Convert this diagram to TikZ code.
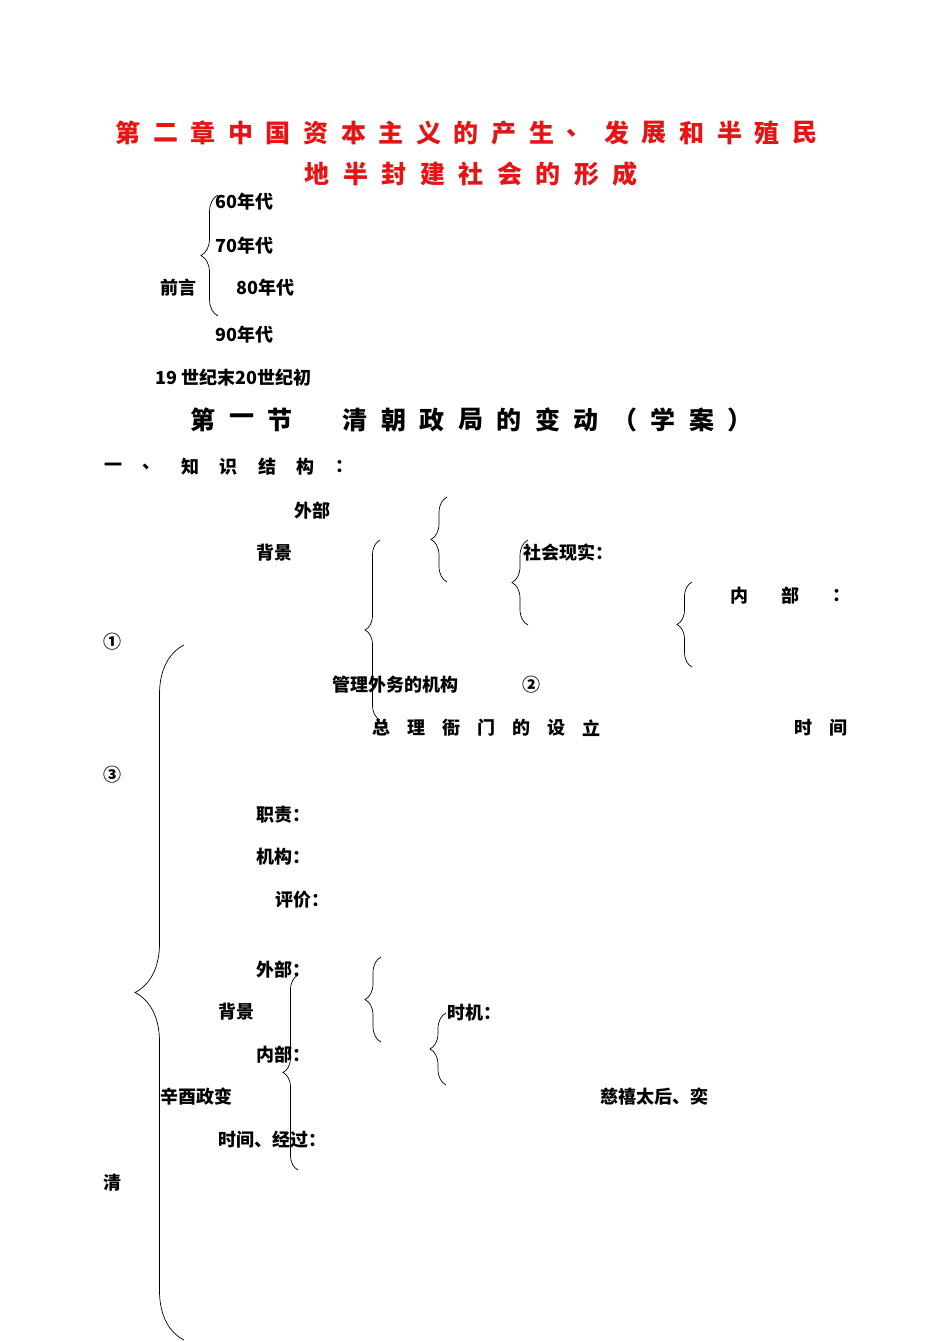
\documentclass[tikz,border=0pt]{standalone}
\usepackage{fontspec}
\setmainfont{Liberation Serif}
\newfontfamily\cjk{Noto Sans CJK SC}
\usetikzlibrary{decorations.pathreplacing}
\definecolor{titlered}{RGB}{230,20,20}
\tikzset{
 txt/.style={anchor=west,inner sep=0pt,font=\cjk\fontsize{18}{18}\selectfont\bfseries},
 ttl/.style={inner sep=0pt,font=\cjk\fontsize{25}{25}\selectfont\bfseries},
 br/.style={decorate,decoration={brace,amplitude=#1},line width=0.7pt},
}
\newcommand\spreadtext[6]{% x0, pitch, y, name, style, chars
 \foreach \c [count=\i from 0] in {#6} \node[#5,name=#4\i] at ({#1+\i*#2},#3) {\c};}
\begin{document}
\begin{tikzpicture}[x=1pt,y=-1pt]
\useasboundingbox (0,0) rectangle (950,1342);
% title
\spreadtext{128}{37.6}{133}{ta}{ttl,text=titlered}{第,二,章,中,国,资,本,主,义,的,产,生,、,发,展,和,半,殖,民}
\spreadtext{317}{38.5}{174}{tb}{ttl,text=titlered}{地,半,封,建,社,会,的,形,成}
% preface
\node[txt] (a60) at (215,202) {60年代};
\node[txt] (a70) at (215,246) {70年代};
\node[txt] (qy) at (160,288) {前言};
\node[txt] (a80) at (236,288) {80年代};
\node[txt] (a90) at (215,335) {90年代};
\node[txt] (c19) at (155,378) {19 世纪末20世纪初};
\draw[br=17pt] (218,316) -- (218,195);
% section
\spreadtext{203}{38.5}{420}{sa}{ttl}{第,一,节}
\spreadtext{355}{38.5}{420}{sb}{ttl}{清,朝,政,局,的,变,动,（,学,案,）}
\spreadtext{113}{38.5}{467}{sc}{txt,anchor=center}{一,、,知,识,结,构,：}
% part 1
\node[txt] (wb) at (294,511) {外部};
\node[txt] (bj) at (256,553) {背景};
\node[txt] (sh) at (523,553) {社会现实：};
\spreadtext{730}{51}{596}{nb}{txt}{内,部,：}
\node[txt] (c1) at (103,642) {①};
\node[txt] (gl) at (332,685) {管理外务的机构};
\node[txt] (c2) at (522,685) {②};
\spreadtext{372}{35}{728}{zl}{txt}{总,理,衙,门,的,设,立}
\spreadtext{794}{35}{728}{sj}{txt}{时,间}
\node[txt] (c3) at (103,775) {③};
\node[txt] (zz) at (256,815) {职责：};
\node[txt] (jg) at (256,857) {机构：};
\node[txt] (pj) at (275,900) {评价：};
\draw[br=16pt] (447,582) -- (447,497);
\draw[br=15pt] (380,720) -- (380,540);
\draw[br=16pt] (528,625) -- (528,540);
\draw[br=15pt] (692,667) -- (692,582);
\draw[br=49pt] (184,1340) -- (184,645);
% part 2
\node[txt] (wb2) at (256,970) {外部：};
\node[txt] (bj2) at (218,1012) {背景};
\node[txt] (sj2) at (447,1013) {时机：};
\node[txt] (nb2) at (256,1055) {内部：};
\node[txt] (xy) at (160,1097) {辛酉政变};
\node[txt] (cx) at (600,1097) {慈禧太后、奕};
\node[txt] (sjjg) at (218,1140) {时间、经过：};
\node[txt] (qing) at (103,1183) {清};
\draw[br=16pt] (381,1042) -- (381,957);
\draw[br=15pt] (298,1170) -- (298,975);
\draw[br=16pt] (446,1085) -- (446,1013);
\end{tikzpicture}
\end{document}
